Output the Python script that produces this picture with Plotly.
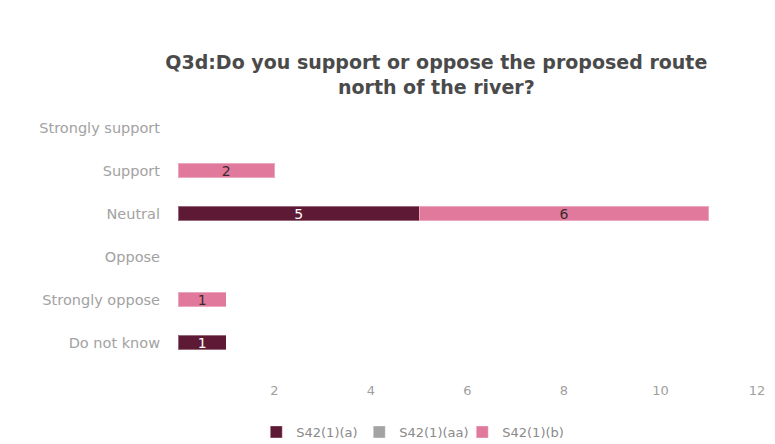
import plotly.graph_objects as go

categories = ["Strongly support", "Support", "Neutral", "Oppose", "Strongly oppose", "Do not know"]
series_names = ["S42(1)(a)", "S42(1)(aa)", "S42(1)(b)"]
s42_a = [0, 0, 5, 0, 0, 1]
s42_aa = [0, 0, 0, 0, 0, 0]
s42_b = [0, 2, 6, 0, 1, 0]
x_ticks = [2, 4, 6, 8, 10, 12]

colors = ["#5e1a35", "#a3a3a3", "#e0799b"]
text_colors = ["#ffffff", "#333333", "#3a2a30"]
FONT = "DejaVu Sans"

fig = go.Figure()
for name, vals, col, tcol in zip(series_names, [s42_a, s42_aa, s42_b], colors, text_colors):
    fig.add_trace(go.Bar(
        y=categories,
        x=vals,
        name=name,
        orientation="h",
        marker=dict(color=col, line=dict(color="rgba(255,255,255,0.35)", width=1)),
        text=[str(v) if v else "" for v in vals],
        textposition="inside",
        textangle=0,
        insidetextanchor="middle",
        constraintext="none",
        textfont=dict(color=tcol, size=14, family=FONT),
        width=0.33,
    ))

fig.update_layout(
    barmode="stack",
    width=775,
    height=444,
    paper_bgcolor="white",
    plot_bgcolor="white",
    margin=dict(l=178, r=18, t=106, b=80, autoexpand=False),
    title=dict(
        text="<b>Q3d:Do you support or oppose the proposed route<br>north of the river?</b>",
        x=0.563,
        xanchor="center",
        y=0.845,
        yanchor="middle",
        font=dict(family=FONT, size=19, color="#4a4a4a"),
    ),
    legend=dict(
        orientation="h",
        x=0.402,
        xanchor="center",
        yref="container",
        y=0.027,
        yanchor="middle",
        font=dict(family=FONT, size=13, color="#8a8a8a"),
        traceorder="normal",
        itemwidth=30,
        entrywidth=58,
    ),
    xaxis=dict(
        range=[0, 12],
        tickvals=x_ticks,
        showgrid=False,
        zeroline=False,
        showline=False,
        tickfont=dict(family=FONT, size=13, color="#a0a0a0"),
        ticklabelstandoff=17,
    ),
    yaxis=dict(
        categoryorder="array",
        categoryarray=categories,
        autorange="reversed",
        showgrid=False,
        zeroline=False,
        showline=False,
        tickfont=dict(family=FONT, size=14.5, color="#a2a2a2"),
        ticklabelstandoff=17,
    ),
    font=dict(family=FONT),
)

fig.write_html("out.html")
